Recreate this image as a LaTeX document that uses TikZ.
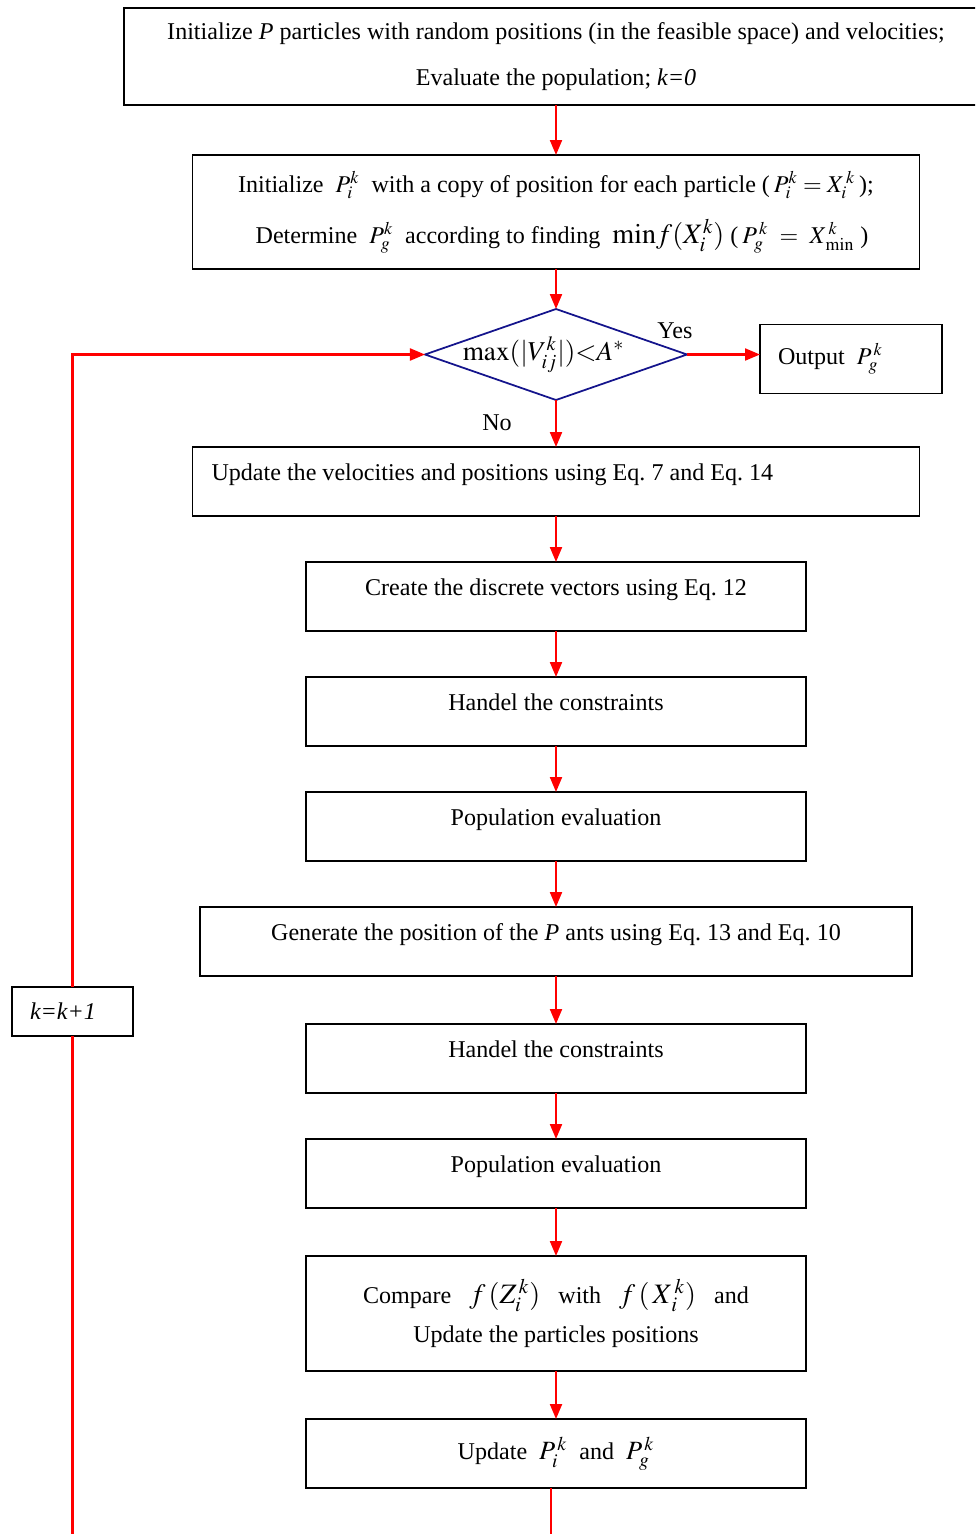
\documentclass[tikz,border=0pt]{standalone}
\usepackage{mathptmx}
\usepackage{fontspec}
\setmainfont{Liberation Serif}
\usetikzlibrary{arrows.meta,positioning,shapes.geometric}
\definecolor{navyline}{RGB}{20,20,140}

\begin{document}
\begin{tikzpicture}[node distance=0.92cm,
		font=\fontsize{13.7}{16}\selectfont\frenchspacing,
		arr/.style={-{Triangle[length=0.3cm,width=0.24cm]},red,line width=1.2pt},
		line/.style={red,line width=1.2pt}]
		\tikzstyle{box}=[draw,line width=1.1pt,align=center,minimum height=1.38cm,inner sep=0.1cm,outer sep=0pt]
		\tikzstyle{upbox}=[box,text height=0.35cm,text depth=0.41cm]
		\tikzstyle{decision}=[diamond,draw=navyline,line width=1pt,aspect=2.9,outer sep=0pt,
		text width=3cm,text height=0.3cm,text depth=0.05cm,align=center,
		minimum width=5.24cm,minimum height=1.82cm,inner sep=0pt,font=\fontsize{15.5}{18}\selectfont]
		
		\useasboundingbox (0,0) rectangle (19.5,-30.68);
		\clip (0,0) rectangle (19.5,-30.68);
		
		\node[box,minimum width=17.28cm,minimum height=1.94cm] (init) at (11.12,-1.13)
		{Initialize \textit{P} particles with random positions (in the feasible space) and velocities;\\[0.37cm]
			Evaluate the population; \textit{k=0}};
		\node[box,minimum width=14.54cm,minimum height=2.28cm] (best) [below=1cm of init]
		{Initialize\ \ $P_i^k$\ \ with a copy of position for each particle (\,$P_i^k=X_i^{\,k}$\,);\\[0.36cm]
			\ \ Determine\ \ $P_g^k$\ \ according to finding\ \ {\fontsize{16}{19}\selectfont$\min\!f(X_i^k)$} (\,$P_g^{\,k}\ =\ X_{\,\min}^{\,k}$\ )};
		\node[decision] (test) [below=0.8cm of best] {\hspace*{-0.5cm}$\max(|V_{ij}^k|){<}A^*$\\[0.1cm]};
		\node[box,minimum width=3.64cm,text width=2.92cm,inner xsep=0.36cm,align=flush left] (out)
		[right=1.46cm of test,yshift=-0.09cm] {Output\ \ $P_g^{\,k}$};
		\node[upbox,minimum width=14.54cm,text width=13.78cm,inner xsep=0.38cm,align=flush left] (move)
		[below=0.94cm of test] {Update the velocities and positions using Eq. 7 and Eq. 14};
		\node[upbox,minimum width=10cm] (disc)  [below=of move]  {Create the discrete vectors using Eq. 12};
		\node[upbox,minimum width=10cm] (hand1) [below=of disc]  {Handel the constraints};
		\node[upbox,minimum width=10cm] (eval1) [below=of hand1] {Population evaluation};
		\node[upbox,minimum width=14.24cm] (ants) [below=of eval1]
		{Generate the position of the \textit{P} ants using Eq. 13 and Eq. 10};
		\node[upbox,minimum width=10cm] (hand2) [below=0.96cm of ants]  {Handel the constraints};
		\node[upbox,minimum width=10cm] (eval2) [below=of hand2] {Population evaluation};
		\node[box,minimum width=10cm,minimum height=2.3cm] (comp) [below=0.96cm of eval2]
		{Compare\ \ \ {\fontsize{16}{19}\selectfont$f\,(Z_i^{\,k})$}\ \ \ with\ \ \ {\fontsize{16}{19}\selectfont$f\,(\,X_{\,i}^{\,k})$}\ \ \ and\\[0.22cm]
			Update the particles positions};
		\node[box,minimum width=10cm] (upd) [below=0.96cm of comp]
		{Update\ \ {\fontsize{15}{18}\selectfont$P_i^{\,k}$}\ \ and\ \ {\fontsize{15}{18}\selectfont$P_g^{\,k}$}};
		\node[box,minimum width=2.42cm,minimum height=0.98cm,text width=1.7cm,inner xsep=0.36cm,align=flush left]
		(kk) at (1.45,-20.23) {\textit{k=k+1}};
		
		\node (yes) at ([xshift=-0.24cm,yshift=0.48cm]test.east) {Yes};
		\node (no) at ([xshift=-1.18cm,yshift=-0.46cm]test.south) {No};
		
		\coordinate (tail) at (11.02,-30.9);
		\coordinate (back) at (1.45,-30.9);
		
		\draw[arr] (init) -- (best);
		\draw[arr] (best) -- (test);
		\draw[arr] (test.east) -- (test.east -| out.west);
		\draw[arr] (test) -- (move);
		\foreach \a/\b in {move/disc,disc/hand1,hand1/eval1,eval1/ants,ants/hand2,
			hand2/eval2,eval2/comp,comp/upd}
		\draw[arr] (\a) -- (\b);
		\draw[line] (upd.south -| tail) -- (tail);
		\draw[line] (back) -- (kk);
		\draw[arr] (kk) |- (test);
\end{tikzpicture}
\end{document}
